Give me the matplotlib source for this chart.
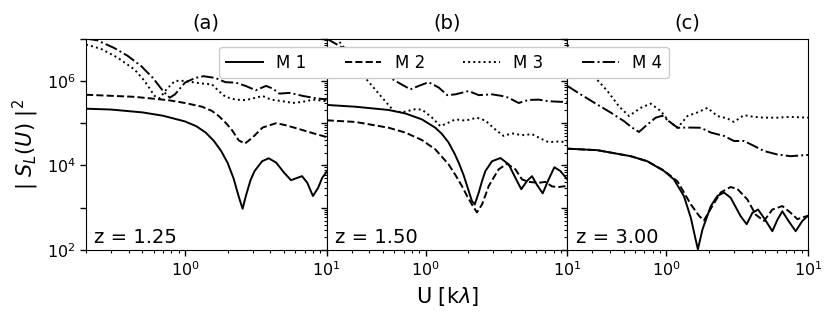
import math
import matplotlib
matplotlib.use("Agg")
import matplotlib.pyplot as plt
from matplotlib.ticker import FixedLocator, NullFormatter, FuncFormatter, NullLocator

# ---------------- data ----------------
# Panel (a) z = 1.25
a_m1_u = [0.2, 0.3, 0.5, 0.7, 1.0, 1.2, 1.4, 1.6, 1.8, 2.0, 2.2, 2.4, 2.55, 2.7, 2.9, 3.1, 3.5, 3.9, 4.4, 5.0, 5.6, 6.2, 6.7, 7.3, 8.0, 8.7, 9.3, 10.0]
a_m1_s = [2.2e5, 2.1e5, 1.8e5, 1.5e5, 1.1e5, 8.5e4, 6.0e4, 3.8e4, 2.2e4, 1.15e4, 5.0e3, 1.8e3, 9.5e2, 2.0e3, 4.5e3, 7.4e3, 1.26e4, 1.48e4, 1.17e4, 6.8e3, 4.5e3, 5.1e3, 5.6e3, 3.9e3, 1.9e3, 2.95e3, 5.1e3, 7.1e3]
a_m2_u = [0.2, 0.44, 0.76, 1.0, 1.32, 1.55, 1.73, 1.95, 2.15, 2.4, 2.65, 3.0, 3.53, 4.4, 5.18, 6.45, 8.0, 10.0]
a_m2_s = [4.7e5, 4.2e5, 3.5e5, 3.0e5, 2.45e5, 1.95e5, 1.48e5, 1.0e5, 6.8e4, 3.9e4, 3.3e4, 4.6e4, 7.9e4, 1.0e5, 8.9e4, 7.2e4, 5.8e4, 4.7e4]
a_m3_u = [0.2, 0.254, 0.334, 0.44, 0.518, 0.61, 0.663, 0.74, 0.85, 1.0, 1.18, 1.39, 1.55, 1.73, 1.93, 2.28, 2.68, 3.16, 3.53, 4.05, 4.9, 5.78, 6.8, 8.0, 10.0]
a_m3_s = [7.2e6, 5.75e6, 3.55e6, 1.86e6, 1.0e6, 4.4e5, 3.9e5, 6.3e5, 1.0e6, 1.0e6, 9.1e5, 8.5e5, 8.3e5, 5.75e5, 4.2e5, 3.6e5, 3.5e5, 4.0e5, 4.4e5, 3.6e5, 3.3e5, 3.0e5, 3.2e5, 3.6e5, 3.3e5]
a_m4_u = [0.2, 0.24, 0.316, 0.394, 0.49, 0.594, 0.7, 0.78, 0.85, 1.0, 1.18, 1.35, 1.64, 1.93, 2.28, 2.68, 3.16, 3.73, 4.16, 4.64, 5.47, 6.1, 6.8, 8.0, 10.0]
a_m4_s = [1.0e7, 9.1e6, 6.0e6, 3.9e6, 2.24e6, 1.17e6, 5.75e5, 4.0e5, 4.8e5, 9.1e5, 1.17e6, 1.29e6, 1.17e6, 9.3e5, 9.1e5, 7.6e5, 6.0e5, 7.6e5, 6.6e5, 5.0e5, 5.2e5, 4.8e5, 4.4e5, 4.0e5, 3.6e5]

# Panel (b) z = 1.50
b_m1_u = [0.2, 0.319, 0.548, 0.718, 0.94, 1.17, 1.3, 1.45, 1.6, 1.71, 1.85, 1.96, 2.12, 2.22, 2.37, 2.5, 2.64, 2.94, 3.37, 3.85, 4.3, 4.73, 5.19, 5.63, 6.1, 6.7, 7.38, 8.1, 8.93, 10.0]
b_m1_s = [2.7e5, 2.45e5, 2.05e5, 1.7e5, 1.23e5, 7.8e4, 5.6e4, 3.5e4, 1.9e4, 1.17e4, 6.0e3, 3.3e3, 1.45e3, 1.2e3, 2.3e3, 4.3e3, 7.4e3, 1.26e4, 1.5e4, 1.07e4, 5.1e3, 2.75e3, 4.3e3, 5.6e3, 3.5e3, 2.2e3, 4.7e3, 9.1e3, 7.4e3, 4.7e3]
b_m2_u = [0.2, 0.319, 0.548, 0.718, 0.94, 1.17, 1.45, 1.62, 1.8, 1.96, 2.12, 2.3, 2.5, 2.79, 3.27, 3.75, 4.3, 4.79, 5.33, 6.28, 7.0, 7.8, 8.69, 10.0]
b_m2_s = [1.17e5, 1.07e5, 7.8e4, 6.0e4, 4.0e4, 2.4e4, 1.07e4, 6.0e3, 3.3e3, 1.9e3, 1.2e3, 7.8e2, 1.2e3, 3.3e3, 8.1e3, 1.1e4, 8.1e3, 4.7e3, 4.1e3, 3.9e3, 4.1e3, 3.2e3, 3.1e3, 3.3e3]
b_m3_u = [0.2, 0.271, 0.375, 0.466, 0.594, 0.68, 0.845, 0.94, 1.11, 1.27, 1.42, 1.62, 1.91, 2.3, 2.64, 3.1, 3.55, 4.06, 4.79, 5.63, 6.62, 7.38, 8.69, 10.0]
b_m3_s = [2.0e7, 5.6e6, 1.17e6, 5.0e5, 1.95e5, 1.8e5, 2.14e5, 2.1e5, 1.35e5, 8.5e4, 1.0e5, 1.23e5, 1.15e5, 1.35e5, 1.15e5, 7.1e4, 5.0e4, 5.75e4, 5.2e4, 5.5e4, 4.2e4, 3.55e4, 3.7e4, 3.55e4]
b_m4_u = [0.2, 0.286, 0.418, 0.61, 0.78, 0.893, 1.05, 1.24, 1.42, 1.62, 2.01, 2.37, 2.94, 3.46, 3.85, 4.53, 5.33, 6.28, 7.38, 8.93, 10.0]
b_m4_s = [1.0e7, 5.0e6, 2.24e6, 1.0e6, 6.3e5, 7.6e5, 9.3e5, 6.9e5, 4.6e5, 4.8e5, 5.75e5, 4.6e5, 4.8e5, 4.4e5, 4.0e5, 3.0e5, 3.55e5, 3.6e5, 3.3e5, 3.2e5, 3.2e5]

# Panel (c) z = 3.00
c_m1_u = [0.2, 0.326, 0.56, 0.734, 0.963, 1.13, 1.33, 1.49, 1.61, 1.67, 1.8, 2.06, 2.29, 2.55, 2.84, 3.35, 3.69, 4.05, 4.44, 4.89, 5.6, 6.08, 6.59, 7.14, 8.18, 9.12, 10.0]
c_m1_s = [2.5e4, 2.3e4, 1.66e4, 1.26e4, 7.4e3, 4.7e3, 1.9e3, 5.75e2, 1.78e2, 1.05e2, 3.1e2, 1.1e3, 1.9e3, 2.3e3, 1.74e3, 6.3e2, 4.1e2, 7.6e2, 9.1e2, 5.75e2, 2.8e2, 5.2e2, 8.3e2, 5.4e2, 2.8e2, 4.9e2, 6.5e2]
c_m2_u = [0.2, 0.326, 0.56, 0.734, 0.963, 1.2, 1.49, 1.7, 1.84, 2.11, 2.42, 2.84, 3.17, 3.73, 4.27, 4.89, 5.6, 6.59, 7.55, 8.41, 10.0]
c_m2_s = [2.5e4, 2.3e4, 1.66e4, 1.26e4, 7.6e3, 4.2e3, 1.2e3, 6.5e2, 5.0e2, 1.1e3, 2.3e3, 3.1e3, 2.8e3, 1.58e3, 6.9e2, 4.9e2, 9.1e2, 1.1e3, 7.6e2, 5.4e2, 6.5e2]
c_m3_u = [0.2, 0.248, 0.308, 0.384, 0.463, 0.545, 0.659, 0.774, 0.912, 1.04, 1.2, 1.41, 1.66, 1.95, 2.29, 2.7, 3.0, 3.53, 4.16, 4.89, 6.08, 7.55, 10.0]
c_m3_s = [7.1e6, 3.16e6, 1.29e6, 5.75e5, 2.5e5, 1.48e5, 2.3e5, 2.9e5, 1.95e5, 1.12e5, 7.8e4, 1.48e5, 1.8e5, 2.3e5, 1.48e5, 1.29e5, 1.07e5, 1.55e5, 1.41e5, 1.35e5, 1.35e5, 1.41e5, 1.35e5]
c_m4_u = [0.2, 0.248, 0.326, 0.405, 0.502, 0.575, 0.641, 0.734, 0.841, 0.937, 1.04, 1.2, 1.41, 1.75, 2.06, 2.55, 3.0, 3.53, 4.16, 4.89, 6.08, 7.55, 10.0]
c_m4_s = [7.6e5, 4.8e5, 2.75e5, 1.78e5, 1.12e5, 7.8e4, 6.2e4, 9.3e4, 1.35e5, 1.5e5, 1.12e5, 7.8e4, 7.9e4, 7.8e4, 6.0e4, 5.0e4, 3.8e4, 3.8e4, 2.9e4, 2.2e4, 1.82e4, 1.66e4, 1.78e4]

panel_titles = ["(a)", "(b)", "(c)"]
redshift_labels = ["z = 1.25", "z = 1.50", "z = 3.00"]
model_labels = ["M 1", "M 2", "M 3", "M 4"]
x_label = r"U [k$\lambda$]"
y_label = r"| $S_L(U)$ |$^2$"

panels = [
    [(a_m1_u, a_m1_s), (a_m2_u, a_m2_s), (a_m3_u, a_m3_s), (a_m4_u, a_m4_s)],
    [(b_m1_u, b_m1_s), (b_m2_u, b_m2_s), (b_m3_u, b_m3_s), (b_m4_u, b_m4_s)],
    [(c_m1_u, c_m1_s), (c_m2_u, c_m2_s), (c_m3_u, c_m3_s), (c_m4_u, c_m4_s)],
]
styles = ["-", "--", ":", "-."]

x_minor = [0.2, 0.3, 0.4, 0.5, 0.6, 0.7, 0.8, 0.9, 2, 3, 4, 5, 6, 7, 8, 9]
y_decades = [1e2, 1e3, 1e4, 1e5, 1e6, 1e7]
y_minor = [d * m for d in y_decades[:-1] for m in range(2, 10)]

# ---------------- figure ----------------
fig, axes = plt.subplots(1, 3, figsize=(8.3, 3.24), dpi=100)
fig.subplots_adjust(left=0.1036, right=0.9735, bottom=0.228, top=0.881, wspace=0)

handles = []
for i, ax in enumerate(axes):
    for j, (u, s) in enumerate(panels[i]):
        ln, = ax.plot(u, s, color="black", linestyle=styles[j], linewidth=1.4)
        if i == 0:
            handles.append(ln)
    ax.set_xscale("log")
    ax.set_yscale("log")
    ax.set_xlim(0.2, 10)
    ax.set_ylim(1e2, 1e7)
    ax.set_title(panel_titles[i], fontsize=14, pad=7)
    ax.text(0.035, 0.015, redshift_labels[i], transform=ax.transAxes,
            fontsize=14, ha="left", va="bottom")
    ax.xaxis.set_major_locator(FixedLocator([1.0, 10.0]))
    ax.xaxis.set_minor_locator(FixedLocator(x_minor))
    ax.xaxis.set_minor_formatter(NullFormatter())
    ax.yaxis.set_major_locator(FixedLocator(y_decades))
    ax.tick_params(axis="both", which="major", labelsize=11.5, length=4, width=1)
    ax.tick_params(axis="both", which="minor", length=2.2, width=0.8)

def yfmt(v, pos):
    e = int(round(math.log10(v)))
    return r"$10^{%d}$" % e if e in (2, 4, 6) else ""

axes[0].yaxis.set_minor_locator(NullLocator())
axes[0].yaxis.set_major_formatter(FuncFormatter(yfmt))
for ax in axes[1:]:
    ax.yaxis.set_minor_locator(FixedLocator(y_minor))
    ax.yaxis.set_minor_formatter(NullFormatter())
    ax.tick_params(axis="y", which="both", labelleft=False)

axes[0].set_ylabel(y_label, fontsize=15)
axes[1].set_xlabel(x_label, fontsize=15)

leg = fig.legend(handles, model_labels, loc="upper center",
                 bbox_to_anchor=(0.535, 0.881), bbox_transform=fig.transFigure,
                 ncol=4, fontsize=12, handlelength=2.2, columnspacing=2.3,
                 borderaxespad=0.5, framealpha=1.0)
leg.set_zorder(10)

fig.savefig("out.png", dpi=100)
